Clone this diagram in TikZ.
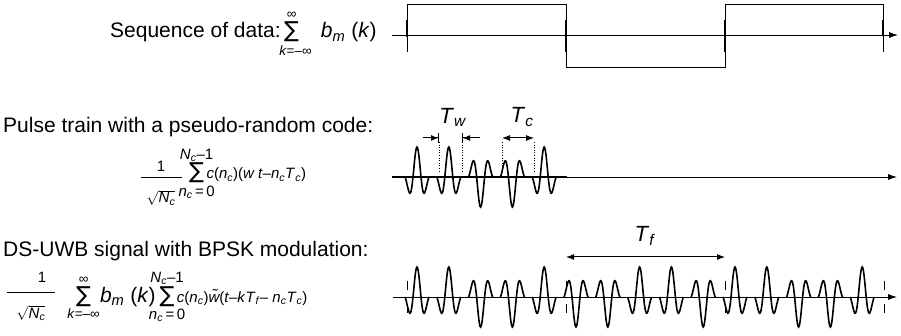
\documentclass[tikz,border=0pt]{standalone}
\usepackage{amsmath}
\usepackage{fontspec}
\setmainfont{Liberation Sans}
\newfontfamily\symfont{DejaVu Sans}
\usetikzlibrary{positioning, arrows.meta}

\newcommand{\sub}[2]{\textit{#1}\textsubscript{\textit{#2}}}
\newcommand{\lsum}[2]{\mathop{\mbox{\fontsize{22}{22}\selectfont\symfont ∑}}\limits_{\makebox[0pt]{#1}}^{\makebox[0pt]{#2}}}
\newcommand{\smallsz}{\fontsize{13.5}{14}\selectfont}

\begin{document}
\begin{tikzpicture}[x=1pt, y=-1pt,
  lbl/.style={inner sep=0pt, anchor=base west, font=\fontsize{21}{24}\selectfont},
  eqn/.style={inner sep=0pt, anchor=base west, font=\fontsize{15}{18}\selectfont},
  tlbl/.style={inner sep=0pt, font=\fontsize{22}{24}\selectfont},
  fracbar/.style={line width=0.7pt},
  axisarr/.style={line width=0.8pt, -{Latex[length=9pt, width=6pt]}},
  sig/.style={line width=0.8pt},
  wave/.style={line width=1.6pt},
  bound/.style={line width=0.6pt, dotted},
  fbound/.style={line width=0.8pt, dash pattern=on 9pt off 14pt},
  dimarr/.style={line width=1pt, {Latex[length=8pt, width=6pt]}-{Latex[length=8pt, width=6pt]}},
  stoparr/.style={line width=1pt, -{Latex[length=7pt, width=6pt]Bar[width=10pt]}}
]
  \useasboundingbox (0,0) rectangle (901,336);

  % left column: texts and formulas
  \node[lbl] (seq) at (110,38) {Sequence of data:\,$\lsum{\smallsz\hspace{8pt}\textit{k}=–∞}{\smallsz∞}$\hspace{22pt}\sub{b}{m} (\textit{k})};

  \node[lbl] (pulse) at (3,133) {Pulse train with a pseudo-random code:};
  \node[eqn, anchor=base] (num2) at (161,172) {1};
  \draw[fracbar] (141,177) -- (182,177);
  \node[eqn, anchor=base] (den2) at (161,203) {$\sqrt{\mbox{\sub{N}{c}}}$};
  \node[eqn] (code) at (189,179) {$\lsum{\sub{n}{c}\,=\,0}{\sub{N}{c}–1}$\,\textit{c}(\sub{n}{c})(\textit{w t}–\sub{n}{c}\sub{T}{c})};

  \node[lbl] (ds) at (3,257) {DS-UWB signal with BPSK modulation:};
  \node[eqn, anchor=base] (num3) at (42,283) {1};
  \draw[fracbar] (7,292) -- (55,292);
  \node[eqn, anchor=base] (den3) at (31,318) {$\sqrt{\mbox{\sub{N}{c}}}$};
  \node[eqn] (dsuwb) at (76,302) {$\lsum{\smallsz\textit{k}=–∞}{\smallsz∞}$\hspace{9pt}{\fontsize{21}{24}\selectfont\sub{b}{m} (\textit{k})}\hspace{4pt}$\lsum{\sub{n}{c}\,=\,0}{\sub{N}{c}–1}$\,\textit{c}(\sub{n}{c})\textit{\~w}(\textit{t}–\textit{k}\sub{T}{f}– \sub{n}{c}\sub{T}{c})};

  % data sequence
  \coordinate (d0) at (392,35);
  \coordinate (d1) at (898,35);
  \draw[axisarr] (d0) -- (d1);
  \draw[sig] (407,52) |- (566,4) |- (725,67) |- (883,4) -- (883,52);
  \foreach \tx/\ty in {407/37, 566/52, 725/52, 883/35}
    \draw[line width=1.8pt] (\tx,20) -- (\tx,\ty);

  % pulse train
  \coordinate (p0) at (392,177);
  \coordinate (p1) at (897,177);
  \draw[axisarr] (p0) -- (p1);
  \draw[wave] (p0) -- (567,177);
  \foreach \cx/\s in {10/1, 41.8/1, 73.6/-1, 105.4/-1, 137.2/1}
    \draw[wave] plot[domain=-12:12, samples=41, smooth]
      ({407+\cx+\x}, {177-\s*30*cos(22.5*\x)*exp(-((\x)^2)/92)});
  \foreach \dx in {439, 462, 502, 534}
    \draw[bound] (\dx,142) -- (\dx,172);
  \coordinate (w0) at (423,138);
  \coordinate (w1) at (439,138);
  \coordinate (w2) at (480,138);
  \coordinate (w3) at (462,138);
  \draw[stoparr] (w0) -- (w1);
  \draw[stoparr] (w2) -- (w3);
  \node[tlbl] (tw) at (453,117) {\sub{T}{w}};
  \coordinate (c0) at (502,138);
  \coordinate (c1) at (534,138);
  \draw[dimarr] (c0) -- (c1);
  \node[tlbl] (tc) at (522,117) {\sub{T}{c}};

  % DS-UWB signal
  \coordinate (s0) at (393,297);
  \coordinate (s1) at (897,297);
  \draw[axisarr] (s0) -- (s1);
  \foreach \fx/\b in {407/1, 566/-1, 725/1}
    \foreach \cx/\s in {10/1, 41.8/1, 73.6/-1, 105.4/-1, 137.2/1}
      \draw[wave] plot[domain=-12:12, samples=41, smooth]
        ({\fx+\cx+\x}, {297-\b*\s*30*cos(22.5*\x)*exp(-((\x)^2)/92)});
  \foreach \fx in {407, 566, 725, 884}
    \draw[fbound] (\fx,281) -- (\fx,313);
  \coordinate (f0) at (566,257);
  \coordinate (f1) at (725,257);
  \draw[dimarr] (f0) -- (f1);
  \node[tlbl] (tf) at (645,236) {\sub{T}{f}};
\end{tikzpicture}
\end{document}
